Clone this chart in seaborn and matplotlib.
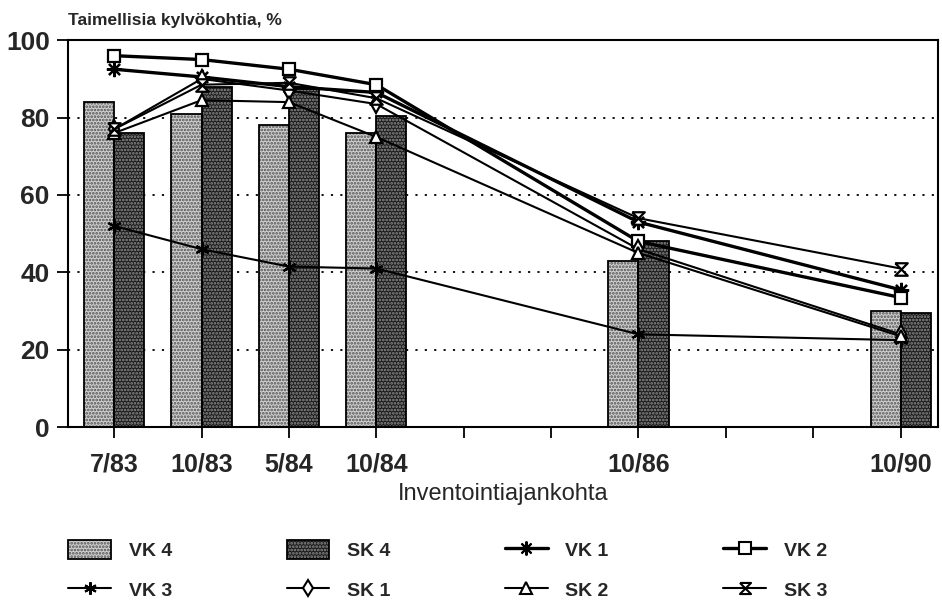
import numpy as np
import pandas as pd
import seaborn as sns
import matplotlib.pyplot as plt
from matplotlib.patches import Rectangle, Patch
from matplotlib.lines import Line2D
from matplotlib.legend_handler import HandlerTuple

# Inventory dates placed on an evenly spaced grid (gaps where no inventory was made)
dates = ['7/83', '10/83', '5/84', '10/84', '10/86', '10/90']
slots = [0, 1, 2, 3, 6, 9]
n_slots = 10

# Bars: share of stocked planting spots, %
vk4 = [84, 81, 78, 76, 43, 30]
sk4 = [76, 88, 87.5, 80.5, 48, 29.5]

# Lines
vk1 = [92.5, 90.5, 88, 86.5, 53, 35.5]
vk2 = [96, 95, 92.5, 88.5, 48, 33.5]
vk3 = [52, 46, 41.5, 41, 24, 22.5]
sk1 = [77, 90, 87, 83.5, 46, 24]
sk2 = [76, 84.5, 84, 75, 45, 23.5]
sk3 = [77, 88.5, 89, 85, 54, 41]

sns.set_theme(style='white')
plt.rcParams['font.family'] = ['Liberation Sans', 'DejaVu Sans']
plt.rcParams['hatch.linewidth'] = 1.3

fig, ax = plt.subplots(figsize=(9.42, 6), dpi=100)
fig.subplots_adjust(left=0.072, right=0.996, top=0.933, bottom=0.288)

bar_df = pd.DataFrame({
    'slot': slots * 2,
    'pct': vk4 + sk4,
    'group': ['VK 4'] * len(vk4) + ['SK 4'] * len(sk4),
})
bar_face = {'VK 4': '#cfcfcf', 'SK 4': '#1c1c1c'}
bar_hatch = {'VK 4': ('#505050', '.....'), 'SK 4': ('#8e8e8e', '.....')}

sns.barplot(data=bar_df, x='slot', y='pct', hue='group', hue_order=['VK 4', 'SK 4'],
            native_scale=True, width=0.69, gap=0, palette=bar_face,
            linewidth=0, saturation=1, legend=False, ax=ax, zorder=2)

# stipple texture plus a crisp black outline for every bar
groups = ['VK 4'] * len(vk4) + ['SK 4'] * len(sk4)
for patch, g in zip(list(ax.patches), groups):
    col, h = bar_hatch[g]
    patch.set_hatch(h)
    patch.set_edgecolor(col)
    patch.set_linewidth(0)
    x0, y0 = patch.get_xy()
    ax.add_patch(Rectangle((x0, y0), patch.get_width(), patch.get_height(),
                           fill=False, edgecolor='black', linewidth=1.3, zorder=2.5))

hourglass = [(-1, 1), (1, 1), (-1, -1), (1, -1), (-1, 1)]
series = [
    ('VK 1', vk1, (8, 2, 0), 2.4, 11, 'black'),
    ('VK 2', vk2, 's', 2.4, 9, 'white'),
    ('VK 3', vk3, (6, 2, 0), 1.5, 10, 'black'),
    ('SK 1', sk1, 'd', 1.5, 9, 'white'),
    ('SK 2', sk2, '^', 1.5, 9, 'white'),
    ('SK 3', sk3, hourglass, 1.5, 9, 'white'),
]
line_handles = {}
for name, vals, mk, lw, ms, mfc in series:
    sns.lineplot(x=slots, y=vals, color='black', linewidth=lw, marker=mk,
                 markersize=ms, markerfacecolor=mfc, markeredgecolor='black',
                 markeredgewidth=1.6, ax=ax, zorder=3)
    line_handles[name] = Line2D([0], [0], color='black', linewidth=lw, marker=mk,
                                markersize=ms - 1, markerfacecolor=mfc,
                                markeredgecolor='black', markeredgewidth=1.5)

ax.set_xlim(-0.53, 9.43)
ax.set_ylim(0, 100)
ax.set_yticks([0, 20, 40, 60, 80, 100])
ax.set_yticklabels(['0', '20', '40', '60', '80', '100'], fontsize=19, fontweight='bold')
tick_labels = [''] * n_slots
for s, d in zip(slots, dates):
    tick_labels[s] = d
ax.set_xticks(range(n_slots))
ax.set_xticklabels(tick_labels, fontsize=18, fontweight='bold')
ax.tick_params(axis='both', direction='out', length=8, width=1.3, color='black',
               left=True, bottom=True, pad=5)
ax.tick_params(axis='x', pad=10)

ax.yaxis.grid(True, linestyle=(0, (1.2, 4)), color='black', linewidth=1.3)
ax.xaxis.grid(False)
ax.set_axisbelow(True)
for sp in ax.spines.values():
    sp.set_color('black')
    sp.set_linewidth(1.5)

ax.set_xlabel('Inventointiajankohta', fontsize=17, labelpad=5)
ax.set_ylabel('')
fig.text(0.072, 0.966, 'Taimellisia kylvökohtia, %', fontsize=12.5, fontweight='bold',
         ha='left', va='center')

bar_handles = {}
for g in ['VK 4', 'SK 4']:
    col, h = bar_hatch[g]
    fill = Patch(facecolor=bar_face[g], edgecolor=col, hatch=h, linewidth=0)
    outline = Patch(fill=False, edgecolor='black', linewidth=1.3)
    bar_handles[g] = (fill, outline)

order = ['VK 4', 'VK 3', 'SK 4', 'SK 1', 'VK 1', 'SK 2', 'VK 2', 'SK 3']
handles = [bar_handles.get(k, line_handles.get(k)) for k in order]
fig.legend(handles, order, ncol=4, loc='center left', bbox_to_anchor=(0.054, 0.05),
           frameon=False, prop={'size': 14, 'weight': 'bold'}, handlelength=2.2,
           handleheight=1.1, columnspacing=5.9, labelspacing=1.05, handletextpad=0.9,
           handler_map={tuple: HandlerTuple(ndivide=1, pad=0)})

fig.savefig('out.png', dpi=100)
